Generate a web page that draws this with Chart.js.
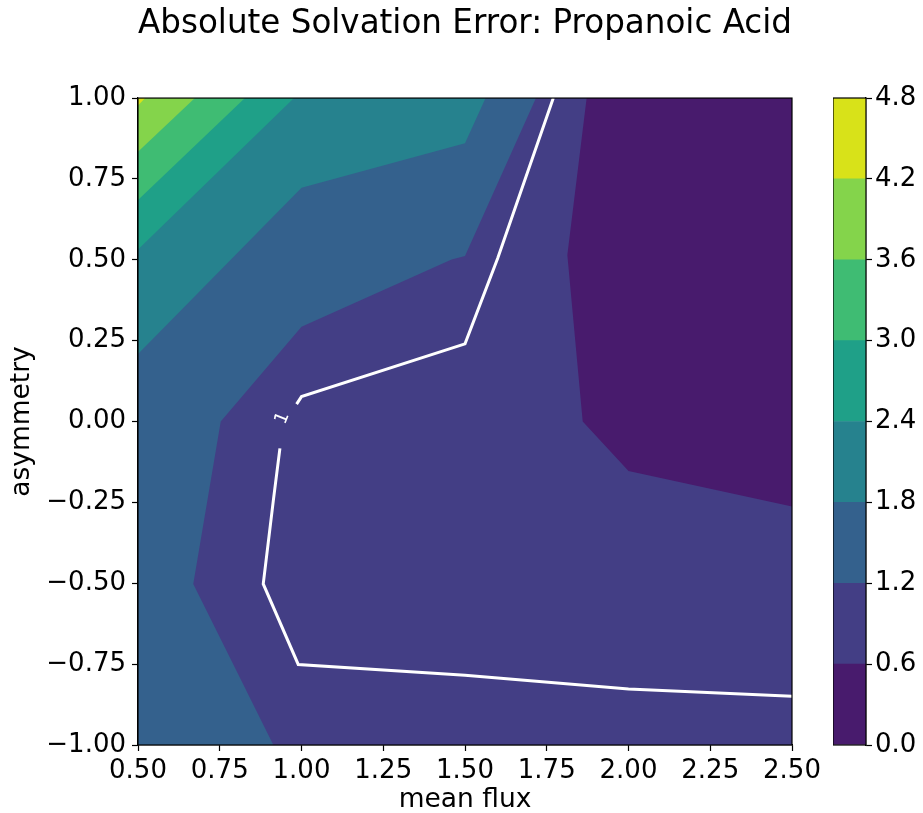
<!DOCTYPE html>
<html>
<head>
<meta charset="utf-8">
<script src="https://cdn.jsdelivr.net/npm/chart.js@4.4.0/dist/chart.umd.min.js"></script>
<style>
  body { margin: 0; background: #fff; }
  #wrap { position: relative; width: 923px; height: 813px; }
  #main { position: absolute; left: 0; top: 0; }
  #cbar { position: absolute; left: 833px; top: 0; }
</style>
</head>
<body>
<div id="wrap">
  <canvas id="main" width="923" height="813"></canvas>
  <canvas id="cbar" width="90" height="813"></canvas>
</div>
<script>
// contour levels and the colour of each band between them
const levels = [0, 0.6, 1.2, 1.8, 2.4, 3.0, 3.6, 4.2, 4.8];
const bandColors = ["#481b6d", "#433e85", "#34618d", "#26828e", "#1fa088", "#3fbc73", "#84d44b", "#d8e219"];

const xTicks = [0.5, 0.75, 1.0, 1.25, 1.5, 1.75, 2.0, 2.25, 2.5];
const yTicks = [-1, -0.75, -0.5, -0.25, 0, 0.25, 0.5, 0.75, 1];

// contour lines, [mean flux, asymmetry]
const c06 = [[1.872, 1], [1.813, 0.515], [1.860, 0], [2.0, -0.153], [2.5, -0.263]];
const c12 = [[1.717, 1], [1.5, 0.512], [1.459, 0.501], [1.0, 0.293], [0.753, 0], [0.669, -0.502], [0.914, -1]];
const c18 = [[1.563, 1], [1.5, 0.860], [1.0, 0.723], [0.5, 0.209]];
const c24 = [[0.977, 1], [0.5, 0.532]];
const c30 = [[0.827, 1], [0.5, 0.685]];
const c36 = [[0.674, 1], [0.5, 0.834]];
const c42 = [[0.522, 1], [0.5, 0.977]];

// the white "1" line, in two pieces around its label
const line1a = [[1.770, 1], [1.6, 0.505], [1.5, 0.240], [1.0, 0.077], [0.985, 0.054]];
const line1b = [[0.934, -0.083], [0.914, -0.243], [0.883, -0.502], [0.990, -0.751], [1.5, -0.784], [2.0, -0.827], [2.5, -0.849]];

const FONT = "DejaVu Sans";
const xMin = 0.5, xMax = 2.5, yMin = -1, yMax = 1;

function pts(arr) {
  return arr.map(p => ({ x: p[0], y: p[1] }));
}

// region where value >= level: the contour plus the corners on the high side
function closed(line, corners) {
  const all = line.concat(corners);
  all.push(line[0]);
  return pts(all);
}

const regions = [
  closed([[xMin, yMin], [xMax, yMin], [xMax, yMax], [xMin, yMax]], []),
  closed(c06, [[xMax, yMin], [xMin, yMin], [xMin, yMax]]),
  closed(c12, [[xMin, yMin], [xMin, yMax]]),
  closed(c18, [[xMin, yMax]]),
  closed(c24, [[xMin, yMax]]),
  closed(c30, [[xMin, yMax]]),
  closed(c36, [[xMin, yMax]]),
  closed(c42, [[xMin, yMax]]),
];

const datasets = regions.map((r, i) => ({
  data: r,
  showLine: true,
  fill: "shape",
  backgroundColor: bandColors[i],
  borderColor: bandColors[i],
  borderWidth: 0,
  pointRadius: 0,
  tension: 0,
  order: 100 - i,
}));

[line1a, line1b].forEach(l => {
  datasets.push({
    data: pts(l),
    showLine: true,
    fill: false,
    borderColor: "#ffffff",
    borderWidth: 3,
    pointRadius: 0,
    tension: 0,
    order: 0,
  });
});

function fmt(v, d) {
  return v.toFixed(d).replace("-", "\u2212");
}

// black box round the plot, plus the contour label
const framePlugin = {
  id: "frame",
  afterDatasetsDraw(chart, args, opts) {
    if (!opts.label) return;
    const ctx = chart.ctx;
    const px = chart.scales.x.getPixelForValue(0.942);
    const py = chart.scales.y.getPixelForValue(0.01);
    ctx.save();
    ctx.translate(px, py);
    ctx.rotate(-68 * Math.PI / 180);
    ctx.fillStyle = "#fff";
    ctx.font = "18px " + FONT;
    ctx.textAlign = "center";
    ctx.textBaseline = "middle";
    ctx.fillText("1", 0, 0);
    ctx.restore();
  },
  afterDraw(chart) {
    const a = chart.chartArea;
    const ctx = chart.ctx;
    ctx.save();
    ctx.strokeStyle = "#000";
    ctx.lineWidth = 1.2;
    ctx.strokeRect(a.left, a.top, a.right - a.left, a.bottom - a.top);
    ctx.restore();
  },
};

const tickFont = { family: FONT, size: 26 };
const labelFont = { family: FONT, size: 26.5, lineHeight: 1.0 };

new Chart(document.getElementById("main"), {
  type: "scatter",
  data: { datasets: datasets },
  plugins: [framePlugin],
  options: {
    responsive: false,
    animation: false,
    layout: { padding: { top: 0, right: 131, bottom: 0, left: 0 } },
    plugins: {
      legend: { display: false },
      tooltip: { enabled: false },
      frame: { label: true },
      title: {
        display: true,
        fullSize: false,
        text: "Absolute Solvation Error: Propanoic Acid",
        color: "#000",
        font: { family: FONT, size: 32.8, weight: "normal" },
        padding: { top: 4.5, bottom: 54.2 },
      },
    },
    scales: {
      x: {
        type: "linear",
        min: xMin,
        max: xMax,
        afterBuildTicks: s => { s.ticks = xTicks.map(v => ({ value: v })); },
        afterFit: s => { s.height = 68; },
        grid: { drawOnChartArea: false, tickLength: 6, tickWidth: 1.2, color: "#000" },
        border: { display: true, color: "#000", width: 1.2 },
        ticks: { color: "#000", font: tickFont, padding: 5, maxRotation: 0, autoSkip: false, callback: v => fmt(v, 2) },
        title: { display: true, text: "mean flux", color: "#000", font: labelFont, padding: { top: 0, bottom: 0 } },
      },
      y: {
        type: "linear",
        min: yMin,
        max: yMax,
        afterBuildTicks: s => { s.ticks = yTicks.map(v => ({ value: v })); },
        afterFit: s => { s.width = 138; },
        grid: { drawOnChartArea: false, tickLength: 6, tickWidth: 1.2, color: "#000" },
        border: { display: true, color: "#000", width: 1.2 },
        ticks: { color: "#000", font: tickFont, padding: 6, autoSkip: false, callback: v => fmt(v, 2) },
        title: { display: true, text: "asymmetry", color: "#000", font: labelFont, padding: { top: 9, bottom: 0 } },
      },
    },
  },
});

// colorbar: one floating bar per band
new Chart(document.getElementById("cbar"), {
  type: "bar",
  data: {
    labels: [""],
    datasets: bandColors.map((c, i) => ({
      data: [[levels[i], levels[i + 1]]],
      backgroundColor: c,
      borderWidth: 0,
      barPercentage: 1,
      categoryPercentage: 1,
      grouped: false,
    })),
  },
  plugins: [framePlugin],
  options: {
    responsive: false,
    animation: false,
    layout: { padding: { top: 98, right: 0, bottom: 68, left: 0 } },
    plugins: { legend: { display: false }, tooltip: { enabled: false }, frame: { label: false } },
    scales: {
      x: { display: false },
      y: {
        position: "right",
        min: 0,
        max: 4.8,
        afterBuildTicks: s => { s.ticks = levels.map(v => ({ value: v })); },
        afterFit: s => { s.width = 57; },
        grid: { drawOnChartArea: false, tickLength: 6, tickWidth: 1.2, color: "#000" },
        border: { display: true, color: "#000", width: 1.2 },
        ticks: { color: "#000", font: tickFont, padding: 3, autoSkip: false, callback: v => v.toFixed(1) },
      },
    },
  },
});
</script>
</body>
</html>
